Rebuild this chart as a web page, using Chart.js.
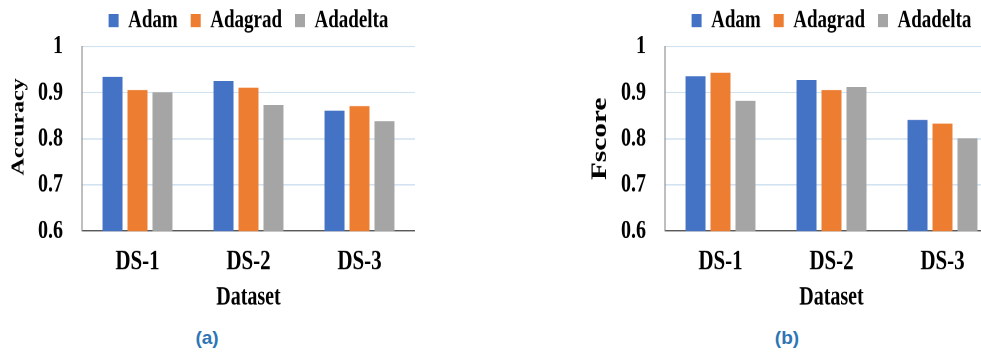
<!DOCTYPE html>
<html>
<head>
<meta charset="utf-8">
<script src="https://cdn.jsdelivr.net/npm/chart.js@4.4.1/dist/chart.umd.min.js"></script>
<style>
  html, body { margin: 0; padding: 0; background: #fff; overflow: hidden; }
  body { width: 981px; height: 352px; position: relative; }
  .wrap { position: absolute; top: 0; width: 415px; height: 240px; transform: scaleY(1.33); transform-origin: 0 0; }
  .caption { position: absolute; top: 327px; width: 60px; text-align: center; font-family: 'Liberation Sans', Arial, sans-serif; font-weight: bold; font-size: 19px; color: #2e75b6; }
</style>
</head>
<body>
<div class="wrap" style="left:0px"><canvas id="chartAccuracy"></canvas></div>
<div class="wrap" style="left:583px"><canvas id="chartFscore"></canvas></div>
<div class="caption" style="left:177px">(a)</div>
<div class="caption" style="left:757px">(b)</div>
<script>
const categories = ['DS-1', 'DS-2', 'DS-3'];
const seriesNames = ['Adam', 'Adagrad', 'Adadelta'];
const seriesColors = ['#4472c4', '#ed7d31', '#a5a5a5'];
const yTickLabels = ['0.6', '0.7', '0.8', '0.9', '1'];

// accuracy per optimizer
const accAdam = [0.934, 0.925, 0.861];
const accAdagrad = [0.906, 0.911, 0.871];
const accAdadelta = [0.901, 0.873, 0.838];

// fscore per optimizer
const fsAdam = [0.936, 0.928, 0.841];
const fsAdagrad = [0.943, 0.906, 0.833];
const fsAdadelta = [0.882, 0.912, 0.801];

const serif = "'Liberation Serif', 'Times New Roman', serif";

function makeChart(id, yTitle, yTitleSize, yTitlePad, values) {
  const ctx = document.getElementById(id);
  return new Chart(ctx, {
    type: 'bar',
    data: {
      labels: categories,
      datasets: values.map((v, i) => ({
        label: seriesNames[i],
        data: v,
        backgroundColor: seriesColors[i],
        borderWidth: 0,
        categoryPercentage: 0.675,
        barPercentage: 0.8
      }))
    },
    options: {
      maintainAspectRatio: false,
      responsive: true,
      animation: false,
      devicePixelRatio: 2,
      layout: { padding: { top: -7, left: 0, right: 0, bottom: 0 } },
      plugins: {
        legend: {
          position: 'top',
          fullSize: false,
          labels: {
            boxWidth: 10,
            boxHeight: 10,
            padding: 13,
            color: '#000',
            font: { family: serif, weight: 'bold', size: 19 }
          }
        },
        tooltip: { enabled: false }
      },
      scales: {
        x: {
          grid: { display: false },
          border: { color: '#595959', width: 1 },
          ticks: { color: '#000', padding: 3, font: { family: serif, weight: 'bold', size: 21 } },
          title: { display: true, text: 'Dataset', color: '#000', padding: { top: 0, bottom: 4 },
                   font: { family: serif, weight: 'bold', size: 20 } },
          afterFit: function(scale) { scale.height = 66.3; }
        },
        y: {
          min: 0.6,
          max: 1,
          ticks: {
            stepSize: 0.1,
            color: '#000',
            padding: 19,
            font: { family: serif, weight: 'bold', size: 20 },
            callback: function(value, index) { return yTickLabels[index]; }
          },
          grid: { color: '#d0e1f0', drawTicks: false },
          border: { color: '#7f7f7f', width: 1 },
          title: { display: true, text: yTitle, color: '#000', padding: { top: yTitlePad, bottom: 0 },
                   font: { family: serif, weight: 'bold', size: yTitleSize } },
          afterFit: function(scale) { scale.width = 82; }
        }
      }
    }
  });
}

// leading spaces nudge the rotated title up a little, as in the original
makeChart('chartAccuracy', '    Accuracy', 18, 8, [accAdam, accAdagrad, accAdadelta]);
makeChart('chartFscore', 'Fscore', 22, 4, [fsAdam, fsAdagrad, fsAdadelta]);
</script>
</body>
</html>
